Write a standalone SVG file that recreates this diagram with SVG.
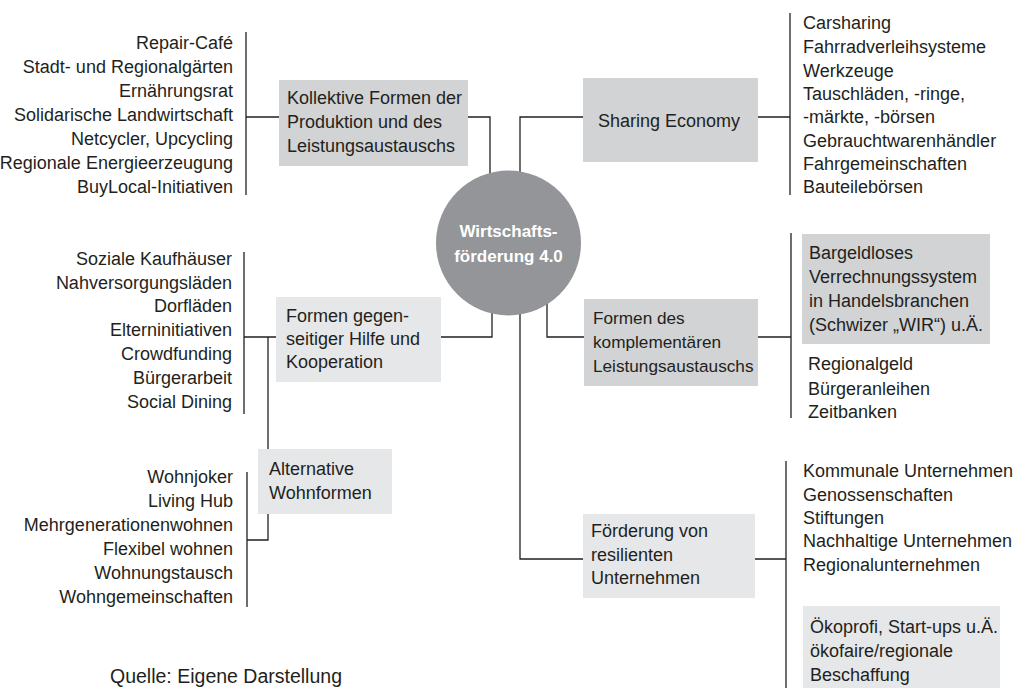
<svg xmlns="http://www.w3.org/2000/svg" width="1029" height="688" viewBox="0 0 1029 688">
<style>
text{font-family:"Liberation Sans",Arial,sans-serif;font-size:18px;fill:#231f20}
.r{text-anchor:end}
.dk{fill:#d1d3d4}
.lt{fill:#e6e7e8}
.ln{fill:none;stroke:#231f20;stroke-width:1.3}
.hub text{fill:#ffffff;font-weight:bold;font-size:17px;text-anchor:middle}
.sm{font-size:17.2px}
</style>
<rect width="1029" height="688" fill="#ffffff"/>
<g id="connectors" class="ln">
<path d="M468,117 H490 V200"/>
<path d="M520,200 V117 H583"/>
<path d="M758,117 H790 M790,13 V195"/>
<path d="M279,117 H246 M246,32 V195"/>
<path d="M492,280 V337 H441"/>
<path d="M276,337 H244 M244,252 V414"/>
<path d="M268,337 V540 H247 M247,472 V607"/>
<path d="M547,280 V337 H584"/>
<path d="M758,337 H791 M791,233 V418"/>
<path d="M520,280 V559 H583"/>
<path d="M755,559 H786 M786,461 V688"/>
</g>
<g id="hub" class="hub">
<circle cx="508.5" cy="243" r="72.5" fill="#939598"/>
<text x="508.5" y="237">Wirtschafts-</text>
<text x="508.5" y="262">förderung 4.0</text>
</g>
<g id="kollektive">
<rect class="dk" x="279" y="80" width="189" height="86"/>
<text x="287" y="104">Kollektive Formen der</text>
<text x="287" y="128">Produktion und des</text>
<text x="287" y="152">Leistungsaustauschs</text>
</g>
<g id="kollektive-list">
<text class="r" x="233" y="49">Repair-Café</text>
<text class="r" x="233" y="73">Stadt- und Regionalgärten</text>
<text class="r" x="233" y="97">Ernährungsrat</text>
<text class="r" x="233" y="121">Solidarische Landwirtschaft</text>
<text class="r" x="233" y="145">Netcycler, Upcycling</text>
<text class="r" x="233" y="169">Regionale Energieerzeugung</text>
<text class="r" x="233" y="193">BuyLocal-Initiativen</text>
</g>
<g id="sharing">
<rect class="dk" x="583" y="78" width="175" height="84"/>
<text x="598" y="127">Sharing Economy</text>
</g>
<g id="sharing-list">
<text x="803" y="29">Carsharing</text>
<text x="803" y="53">Fahrradverleihsysteme</text>
<text x="803" y="76.5">Werkzeuge</text>
<text x="803" y="100">Tauschläden, -ringe,</text>
<text x="803" y="123">-märkte, -börsen</text>
<text x="803" y="147">Gebrauchtwarenhändler</text>
<text x="803" y="170">Fahrgemeinschaften</text>
<text x="803" y="193">Bauteilebörsen</text>
</g>
<g id="hilfe">
<rect class="lt" x="276" y="297" width="165" height="85"/>
<text x="286" y="322">Formen gegen-</text>
<text x="286" y="345">seitiger Hilfe und</text>
<text x="286" y="368">Kooperation</text>
</g>
<g id="hilfe-list">
<text class="r" x="232" y="265">Soziale Kaufhäuser</text>
<text class="r" x="232" y="289">Nahversorgungsläden</text>
<text class="r" x="232" y="312">Dorfläden</text>
<text class="r" x="232" y="336">Elterninitiativen</text>
<text class="r" x="232" y="360">Crowdfunding</text>
<text class="r" x="232" y="384">Bürgerarbeit</text>
<text class="r" x="232" y="408">Social Dining</text>
</g>
<g id="wohnformen">
<rect class="lt" x="258" y="449" width="134" height="65"/>
<text x="269" y="475">Alternative</text>
<text x="269" y="499">Wohnformen</text>
</g>
<g id="wohnformen-list">
<text class="r" x="233" y="483">Wohnjoker</text>
<text class="r" x="233" y="507">Living Hub</text>
<text class="r" x="233" y="531">Mehrgenerationenwohnen</text>
<text class="r" x="233" y="555">Flexibel wohnen</text>
<text class="r" x="233" y="579">Wohnungstausch</text>
<text class="r" x="233" y="603">Wohngemeinschaften</text>
</g>
<g id="komplementaer">
<rect class="dk" x="584" y="299" width="174" height="87"/>
<text class="sm" x="593" y="324">Formen des</text>
<text class="sm" x="593" y="348">komplementären</text>
<text class="sm" x="593" y="372">Leistungsaustauschs</text>
</g>
<g id="bargeldlos">
<rect class="dk" x="802" y="234" width="188" height="110"/>
<text x="809" y="259">Bargeldloses</text>
<text x="809" y="283">Verrechnungssystem</text>
<text x="809" y="307">in Handelsbranchen</text>
<text x="809" y="331">(Schwizer „WIR“) u.Ä.</text>
</g>
<g id="komplementaer-list">
<text x="808" y="370">Regionalgeld</text>
<text x="808" y="395">Bürgeranleihen</text>
<text x="808" y="418">Zeitbanken</text>
</g>
<g id="resilient">
<rect class="lt" x="583" y="514" width="172" height="84"/>
<text x="591" y="537">Förderung von</text>
<text x="591" y="561">resilienten</text>
<text x="591" y="584">Unternehmen</text>
</g>
<g id="resilient-list">
<text x="803" y="477">Kommunale Unternehmen</text>
<text x="803" y="501">Genossenschaften</text>
<text x="803" y="524">Stiftungen</text>
<text x="803" y="547">Nachhaltige Unternehmen</text>
<text x="803" y="571">Regionalunternehmen</text>
</g>
<g id="oekoprofi">
<rect class="lt" x="803" y="606" width="197" height="90"/>
<text x="810" y="633">Ökoprofi, Start-ups u.Ä.</text>
<text x="810" y="657">ökofaire/regionale</text>
<text x="810" y="681">Beschaffung</text>
</g>
<text id="quelle" x="110" y="683" style="font-size:19.5px">Quelle: Eigene Darstellung</text>
</svg>
